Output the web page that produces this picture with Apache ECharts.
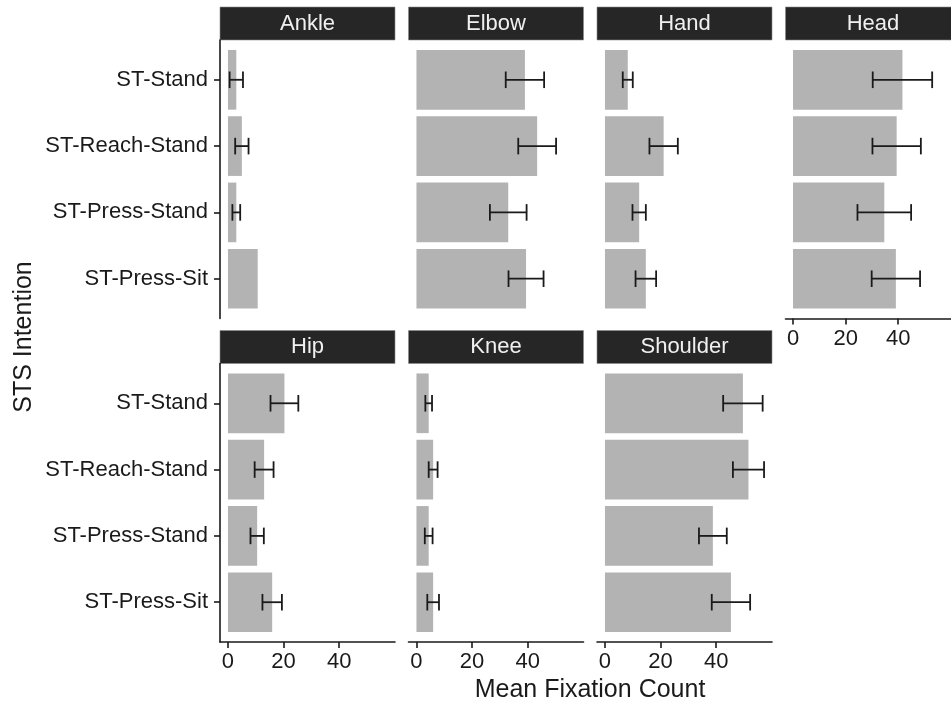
<!DOCTYPE html>
<html>
<head>
<meta charset="utf-8">
<script src="https://cdn.jsdelivr.net/npm/echarts@6/dist/echarts.min.js"></script>
<style>
  html, body { margin: 0; padding: 0; background: #fff; }
  #chart { width: 951px; height: 702px; }
</style>
</head>
<body>
<div id="chart"></div>
<script>
// categories (top to bottom) and facet names
const categories = ['ST-Stand', 'ST-Reach-Stand', 'ST-Press-Stand', 'ST-Press-Sit'];
const panelNames = ['Ankle', 'Elbow', 'Hand', 'Head', 'Hip', 'Knee', 'Shoulder'];

// mean fixation count and error (+/-) per body part
const ankleMean = [3.0, 5.0, 3.0, 10.7];
const ankleErr = [2.4, 2.4, 1.4, null];
const elbowMean = [39.0, 43.4, 33.0, 39.4];
const elbowErr = [6.9, 6.8, 6.6, 6.3];
const handMean = [8.2, 21.1, 12.3, 14.7];
const handErr = [1.8, 5.1, 2.4, 3.7];
const headMean = [41.6, 39.4, 34.7, 39.1];
const headErr = [11.3, 9.2, 10.2, 9.2];
const hipMean = [20.3, 13.0, 10.5, 15.9];
const hipErr = [5.0, 3.4, 2.4, 3.5];
const kneeMean = [4.4, 6.0, 4.4, 6.0];
const kneeErr = [1.2, 1.6, 1.4, 2.1];
const shoulderMean = [49.6, 51.6, 38.8, 45.3];
const shoulderErr = [7.1, 5.6, 5.0, 6.9];

const xTicks = [0, 20, 40];

const means = [ankleMean, elbowMean, handMean, headMean, hipMean, kneeMean, shoulderMean];
const errs = [ankleErr, elbowErr, handErr, headErr, hipErr, kneeErr, shoulderErr];

// shared x range like ggplot (5% expansion of 0..max upper bar)
var xHi = 0;
means.forEach(function (m, p) {
    m.forEach(function (v, i) {
        xHi = Math.max(xHi, v + (errs[p][i] || 0));
    });
});
const xPad = xHi * 0.05;

// layout
const colLeft = [220, 408.5, 597, 785.5];
const rowTop = [40, 363.5];
const panelW = 175;
const panelH = 278.5;
const stripH = 33;
const FONT = 'Liberation Sans, Arial, Helvetica, sans-serif';
const INK = '#1a1a1a';

var grids = [], xAxes = [], yAxes = [], series = [], graphics = [];

panelNames.forEach(function (name, p) {
    var row = Math.floor(p / 4), col = p % 4;
    var left = colLeft[col], top = rowTop[row];
    var showY = col === 0;
    var showX = p >= 3;

    grids.push({ left: left, top: top, width: panelW, height: panelH });

    xAxes.push({
        gridIndex: p, type: 'value',
        min: -xPad, max: xHi + xPad,
        splitLine: { show: false },
        axisLine: { show: showX, onZero: false, lineStyle: { color: INK, width: 1.6 } },
        axisTick: { show: showX, length: 6, customValues: xTicks, lineStyle: { color: INK, width: 1.6 } },
        axisLabel: {
            show: showX, customValues: xTicks, margin: 9,
            color: INK, fontSize: 22, fontFamily: FONT
        }
    });

    yAxes.push({
        gridIndex: p, type: 'value', inverse: true,
        min: -0.6, max: categories.length - 0.4,
        splitLine: { show: false },
        axisLine: { show: showY, onZero: false, lineStyle: { color: INK, width: 1.6 } },
        axisTick: { show: showY, length: 6, customValues: [0, 1, 2, 3], lineStyle: { color: INK, width: 1.6 } },
        axisLabel: {
            show: showY, customValues: [0, 1, 2, 3], margin: 12,
            color: INK, fontSize: 22, fontFamily: FONT,
            formatter: function (v) { return categories[Math.round(v)]; }
        }
    });

    // bars
    series.push({
        type: 'custom', xAxisIndex: p, yAxisIndex: p,
        data: means[p].map(function (v, i) { return [i, v]; }),
        encode: { x: 1, y: 0 },
        renderItem: function (params, api) {
            var i = api.value(0), v = api.value(1);
            var a = api.coord([0, i]), b = api.coord([v, i]);
            var h = api.size([0, 0.9])[1];
            return {
                type: 'rect',
                shape: { x: a[0], y: a[1] - h / 2, width: b[0] - a[0], height: h },
                style: { fill: '#b3b3b3' }
            };
        },
        silent: true
    });

    // error bars
    var eb = [];
    means[p].forEach(function (v, i) {
        var e = errs[p][i];
        if (e != null) eb.push([i, v - e, v + e]);
    });
    series.push({
        type: 'custom', xAxisIndex: p, yAxisIndex: p,
        data: eb,
        encode: { x: [1, 2], y: 0 },
        z: 3,
        renderItem: function (params, api) {
            var i = api.value(0);
            var a = api.coord([api.value(1), i]), b = api.coord([api.value(2), i]);
            var c = api.size([0, 0.25])[1] / 2;
            var st = { stroke: INK, lineWidth: 1.8 };
            return {
                type: 'group',
                children: [
                    { type: 'line', shape: { x1: a[0], y1: a[1], x2: b[0], y2: b[1] }, style: st },
                    { type: 'line', shape: { x1: a[0], y1: a[1] - c, x2: a[0], y2: a[1] + c }, style: st },
                    { type: 'line', shape: { x1: b[0], y1: b[1] - c, x2: b[0], y2: b[1] + c }, style: st }
                ]
            };
        },
        silent: true
    });

    // facet strip
    graphics.push({
        type: 'rect',
        shape: { x: left, y: top - stripH, width: panelW, height: stripH },
        style: { fill: '#262626', stroke: '#8a8a8a', lineWidth: 0.6 },
        silent: true
    });
    graphics.push({
        type: 'text',
        x: left + panelW / 2, y: top - stripH / 2,
        style: {
            text: name, fill: '#f0f0f0', fontSize: 22, fontFamily: FONT,
            align: 'center', verticalAlign: 'middle'
        },
        silent: true
    });
});

// axis titles
graphics.push({
    type: 'text', x: 590, y: 690,
    style: {
        text: 'Mean Fixation Count', fill: INK, fontSize: 25, fontFamily: FONT,
        align: 'center', verticalAlign: 'middle'
    }
});
graphics.push({
    type: 'text', x: 24, y: 337, rotation: Math.PI / 2,
    style: {
        text: 'STS Intention', fill: INK, fontSize: 25, fontFamily: FONT,
        align: 'center', verticalAlign: 'middle'
    }
});

var chart = echarts.init(document.getElementById('chart'), null, { renderer: 'canvas' });
chart.setOption({
    animation: false,
    backgroundColor: '#ffffff',
    grid: grids,
    xAxis: xAxes,
    yAxis: yAxes,
    series: series,
    graphic: graphics
});
</script>
</body>
</html>
